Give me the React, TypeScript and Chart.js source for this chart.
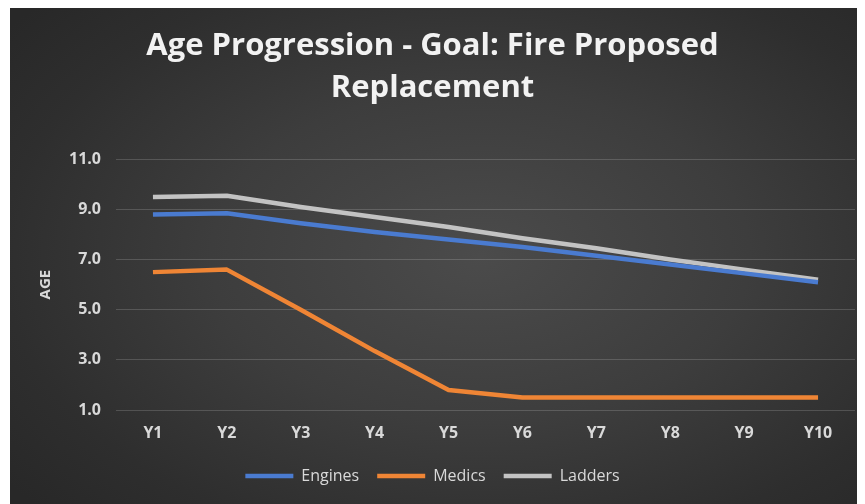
import React, { useEffect, useRef } from "react";
import { Chart, registerables } from "chart.js";

Chart.register(...registerables);

const years = ["Y1", "Y2", "Y3", "Y4", "Y5", "Y6", "Y7", "Y8", "Y9", "Y10"];
const engines = [8.8, 8.85, 8.45, 8.1, 7.8, 7.5, 7.15, 6.8, 6.45, 6.1];
const medics = [6.5, 6.6, 5.0, 3.35, 1.8, 1.5, 1.5, 1.5, 1.5, 1.5];
const ladders = [9.5, 9.55, 9.1, 8.7, 8.3, 7.85, 7.45, 7.0, 6.6, 6.2];
const titleLines = ["Age Progression - Goal: Fire Proposed", "Replacement"];

const FONT = "'Open Sans', 'DejaVu Sans', sans-serif";
const TEXT = "#d9d9d9";

export default function App() {
  const canvasRef = useRef<HTMLCanvasElement | null>(null);

  useEffect(() => {
    if (!canvasRef.current) return;
    const series = (label: string, data: number[], color: string) => ({
      label,
      data,
      borderColor: color,
      backgroundColor: color,
      borderWidth: 4.5,
      pointRadius: 0,
      pointHoverRadius: 0,
      tension: 0,
      borderJoinStyle: "round" as const,
    });
    const chart = new Chart(canvasRef.current, {
      type: "line",
      data: {
        labels: years,
        datasets: [
          series("Engines", engines, "#4a7bd0"),
          series("Medics", medics, "#ef8535"),
          series("Ladders", ladders, "#c3c3c3"),
        ],
      },
      options: {
        animation: false,
        responsive: true,
        maintainAspectRatio: false,
        layout: { padding: { left: 0, right: 10, top: 0, bottom: 10 } },
        plugins: {
          tooltip: { enabled: false },
          title: {
            display: true,
            text: titleLines,
            color: "#f2f2f2",
            font: { family: FONT, size: 31, weight: "bold", lineHeight: 1.36 },
            padding: { top: 17, bottom: 50 },
          },
          legend: {
            position: "bottom",
            labels: {
              usePointStyle: true,
              pointStyle: "line",
              pointStyleWidth: 48,
              padding: 18,
              color: TEXT,
              font: { family: FONT, size: 16 },
            },
          },
        },
        scales: {
          x: {
            offset: true,
            grid: { display: false, drawTicks: false, offset: false },
            border: { display: false },
            ticks: {
              color: TEXT,
              padding: 14,
              font: { family: FONT, size: 16, weight: "bold" },
            },
            afterFit: (s: any) => {
              s.height = 40;
            },
          },
          y: {
            min: 1,
            max: 11,
            grid: { color: "rgba(255,255,255,0.16)", lineWidth: 1, drawTicks: false },
            border: { display: false },
            ticks: {
              stepSize: 2,
              color: TEXT,
              padding: 15,
              font: { family: FONT, size: 16, weight: "bold" },
              callback: (v: any) => Number(v).toFixed(1),
            },
            title: {
              display: true,
              text: "AGE",
              color: TEXT,
              font: { family: FONT, size: 15, weight: "bold" },
              padding: { top: 27, bottom: 0 },
            },
            afterFit: (s: any) => {
              s.width = 106;
            },
          },
        },
      },
    });
    return () => chart.destroy();
  }, []);

  return (
    <div
      style={{
        marginLeft: 2,
        width: 855,
        height: 496,
        position: "relative",
        background:
          "radial-gradient(ellipse 70% 75% at 55% 50%, #4b4b4b 0%, #3d3d3d 45%, #2e2e2e 80%, #282828 100%)",
      }}
    >
      <canvas ref={canvasRef} />
    </div>
  );
}
